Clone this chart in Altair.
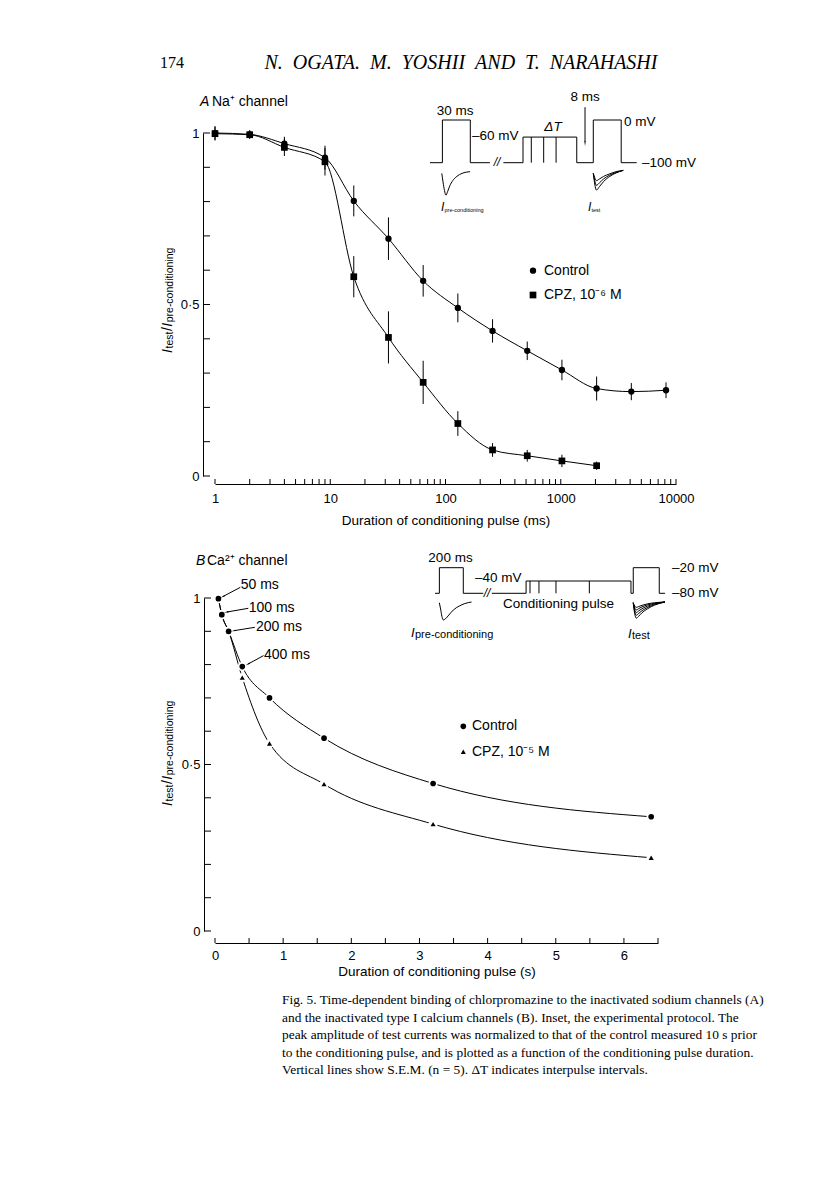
import math
import altair as alt
import pandas as pd

FONT = "Liberation Sans"
SERIF = "Liberation Serif"

# ---------------- data: panel A (Na+ channel) ----------------
a_dur_ctrl = [1, 2, 4, 9, 16, 32, 64, 128, 256, 512, 1024, 2048, 4096, 8192]
a_ctrl     = [1.000, 0.996, 0.969, 0.928, 0.802, 0.692, 0.569, 0.490, 0.423, 0.365, 0.309, 0.255, 0.246, 0.250]
a_ctrl_sem = [0.020, 0.012, 0.020, 0.035, 0.045, 0.062, 0.046, 0.042, 0.034, 0.027, 0.030, 0.035, 0.025, 0.023]
a_dur_cpz  = [1, 2, 4, 9, 16, 32, 64, 128, 256, 512, 1024, 2048]
a_cpz      = [0.998, 0.995, 0.958, 0.916, 0.581, 0.404, 0.273, 0.153, 0.076, 0.059, 0.044, 0.030]
a_cpz_sem  = [0.020, 0.012, 0.025, 0.040, 0.060, 0.076, 0.063, 0.036, 0.020, 0.017, 0.018, 0.012]

# ---------------- data: panel B (Ca2+ channel) ----------------
b_dur  = [0.05, 0.1, 0.2, 0.4, 0.8, 1.6, 3.2, 6.4]
b_ctrl = [0.998, 0.950, 0.900, 0.794, 0.700, 0.579, 0.443, 0.343]
b_cpz  = [0.998, 0.950, 0.900, 0.761, 0.563, 0.441, 0.321, 0.220]
b_ann_labels = ["50 ms", "100 ms", "200 ms", "400 ms"]
b_arrow_x1 = [0.371, 0.488, 0.585, 0.712]
b_arrow_y1 = [1.032, 0.969, 0.912, 0.827]
b_arrow_x2 = [0.122, 0.176, 0.283, 0.488]
b_arrow_y2 = [1.005, 0.958, 0.902, 0.802]

# ---------------- ticks / labels ----------------
a_xticks = [m * 10 ** e for e in range(4) for m in range(1, 10)] + [10000]
a_xlabels = [1, 10, 100, 1000, 10000]
b_xticks = [i * 0.5 for i in range(14)]
b_xlabels = [0, 1, 2, 3, 4, 5, 6]
y_ticks = [i / 10 for i in range(11)]
y_labels = [0, 0.5, 1]

# ---------------- inset protocol A (schematic units) ----------------
ia_seg_t = [[0, 6, 6, 19.5, 19.5, 29], [35.5, 45, 45, 71, 71, 79, 79, 92.5, 92.5, 100]]
ia_seg_v = [[0, 0, 1, 1, 0, 0], [0, 0, 0.6, 0.6, 0, 0, 1, 1, 0, 0]]
ia_steps_t = [49, 55, 61]
ia_steps_top = 0.6
ia_pre_t = [5.7, 6.3, 7.0, 7.7, 8.5, 9.5, 11, 13, 15.5, 19.4]
ia_pre_v = [-0.25, -0.45, -0.65, -0.76, -0.68, -0.55, -0.42, -0.32, -0.25, -0.21]
ia_test_t = [79, 79.7, 80.5, 82, 84, 87, 90, 93.5]
ia_test_v = [[-0.25, -0.35, -0.42, -0.38, -0.32, -0.26, -0.21, -0.18],
             [-0.25, -0.42, -0.53, -0.47, -0.38, -0.29, -0.23, -0.18],
             [-0.25, -0.50, -0.64, -0.56, -0.44, -0.32, -0.24, -0.18]]

# ---------------- inset protocol B (schematic units) ----------------
ib_seg_t = [[0, 1.9, 1.9, 12.3, 12.3, 21], [24.7, 39.6, 39.6, 85.2, 85.2, 86.2, 86.2, 97.5, 97.5, 100]]
ib_seg_v = [[0, 0, 1, 1, 0, 0], [0, 0, 0.48, 0.48, 0, 0, 1, 1, 0, 0]]
ib_steps_t = [41.3, 45.2, 52.6, 67.1]
ib_steps_top = 0.48
ib_pre_t = [1.9, 2.5, 3.0, 3.6, 4.5, 6, 8, 10.5, 13, 15.9]
ib_pre_v = [-0.37, -0.65, -0.90, -1.04, -1.00, -0.85, -0.65, -0.50, -0.40, -0.34]
ib_test_t = [86.2, 86.8, 87.5, 88.5, 90, 92.5, 95.5, 100]
ib_test_v = [[-0.37, -0.50, -0.55, -0.52, -0.47, -0.41, -0.37, -0.34],
             [-0.37, -0.56, -0.65, -0.60, -0.53, -0.45, -0.39, -0.34],
             [-0.37, -0.63, -0.75, -0.69, -0.60, -0.50, -0.41, -0.34],
             [-0.37, -0.70, -0.86, -0.79, -0.68, -0.55, -0.44, -0.34],
             [-0.37, -0.78, -0.97, -0.90, -0.76, -0.60, -0.46, -0.34]]

# ---------------- layout ----------------
OX = 215
OY_A, OY_B = 133, 597
W_A, H_A = 461, 343
W_B, H_B = 443, 333


def dom_x(p0, p1, v0, v1, size):
    k = (p1 - p0) / (v1 - v0)
    d0 = v0 - (p0 - OX) / k
    return [d0, d0 + size / k]


def dom_y(p0, p1, v0, v1, origin, size):
    k = (p0 - p1) / (v1 - v0)
    d1 = v0 + (p0 - origin) / k
    return [d1 - size / k, d1]


ONE = alt.Data(values=[{}])


def ptxt(s, px, py, oy, size=13.5, font=FONT, style="normal", align="left",
         angle=0, baseline="middle"):
    return alt.Chart(ONE).mark_text(
        text=s, font=font, fontSize=size, fontStyle=style, align=align,
        baseline=baseline, angle=angle, color="black"
    ).encode(x=alt.value(px - OX), y=alt.value(py - oy))


def pmark(shape, px, py, oy, size):
    return alt.Chart(ONE).mark_point(
        shape=shape, filled=True, size=size, color="black", opacity=1
    ).encode(x=alt.value(px - OX), y=alt.value(py - oy))


def xaxis(values, title, offset, lp, tp):
    return alt.Axis(values=values, format="d", ticks=False, grid=False, offset=offset,
                    labelPadding=lp, title=title, titlePadding=tp, domainColor="black",
                    domainWidth=1, labelFont=FONT, labelFontSize=13, labelColor="black",
                    titleFont=FONT, titleFontSize=13.5, titleFontWeight="normal",
                    titleColor="black", labelFlush=False, labelOverlap=False)


def yaxis(offset):
    return alt.Axis(values=y_labels,
                    labelExpr="datum.value == 0.5 ? '0·5' : (datum.value == 1 ? '1' : '0')",
                    ticks=False, grid=False, offset=offset, labelPadding=4, title=None,
                    domainColor="black", domainWidth=1, labelFont=FONT, labelFontSize=13,
                    labelColor="black", labelFlush=False, labelOverlap=False)


def ytitle(px_base, py_bottom, oy):
    parts = []
    pos = py_bottom
    pieces = [("I", 14, "italic", 0, 4.5), ("test", 10.5, "normal", 1, 17.5),
              ("/", 14, "normal", 0, 4.2), ("I", 14, "italic", 0, 4.5),
              ("pre-conditioning", 10.5, "normal", 1, 0)]
    for s, fs, st, dx, adv in pieces:
        parts.append(ptxt(s, px_base + dx, pos, oy, size=fs, style=st, angle=270,
                          baseline="alphabetic"))
        pos -= adv
    return parts


def inset(seg_t, seg_v, steps_t, steps_top, pre_t, pre_v, test_t, test_v, sx, sy):
    X = lambda f: alt.X(f, type="quantitative", scale=sx, axis=None)
    Y = lambda f: alt.Y(f, type="quantitative", scale=sy, axis=None)
    rows = []
    for si, (ts, vs) in enumerate(zip(seg_t, seg_v)):
        for i, (t, v) in enumerate(zip(ts, vs)):
            rows.append({"t": t, "v": v, "seg": si, "i": i})
    volt = alt.Chart(pd.DataFrame(rows)).mark_line(color="black", strokeWidth=1).encode(
        x=X("t"), y=Y("v"), detail="seg:N", order="i:Q")
    steps = alt.Chart(pd.DataFrame({"t": steps_t, "lo": [0] * len(steps_t),
                                    "hi": [steps_top] * len(steps_t)})).mark_rule(
        color="black", strokeWidth=1).encode(x=X("t"), y=Y("lo"), y2="hi:Q")
    pre = alt.Chart(pd.DataFrame({"t": pre_t, "v": pre_v})).mark_line(
        color="black", strokeWidth=1, interpolate="monotone").encode(x=X("t"), y=Y("v"))
    trows = []
    for k, vs in enumerate(test_v):
        for t, v in zip(test_t, vs):
            trows.append({"t": t, "v": v, "k": k})
    test = alt.Chart(pd.DataFrame(trows)).mark_line(
        color="black", strokeWidth=1, interpolate="monotone").encode(
        x=X("t"), y=Y("v"), detail="k:N")
    return [volt, steps, pre, test], X, Y


# ======================= PANEL A =======================
scAx = alt.Scale(type="log", domain=[1, 10000], nice=False)
scAy = alt.Scale(domain=[0, 1], nice=False, zero=False)
axAx = xaxis(a_xlabels, "Duration of conditioning pulse (ms)", 8, 8, 8)
axAy = yaxis(12)
XA = lambda f: alt.X(f, type="quantitative", scale=scAx, axis=axAx)
YA = lambda f: alt.Y(f, type="quantitative", scale=scAy, axis=axAy)

dfA_c = pd.DataFrame({"x": a_dur_ctrl, "y": a_ctrl,
                      "lo": [y - e for y, e in zip(a_ctrl, a_ctrl_sem)],
                      "hi": [y + e for y, e in zip(a_ctrl, a_ctrl_sem)]})
dfA_p = pd.DataFrame({"x": a_dur_cpz, "y": a_cpz,
                      "lo": [y - e for y, e in zip(a_cpz, a_cpz_sem)],
                      "hi": [y + e for y, e in zip(a_cpz, a_cpz_sem)]})

lineA_c = alt.Chart(dfA_c).mark_line(color="black", strokeWidth=1, interpolate="monotone").encode(x=XA("x"), y=YA("y"))
lineA_p = alt.Chart(dfA_p).mark_line(color="black", strokeWidth=1, interpolate="monotone").encode(x=XA("x"), y=YA("y"))
errA = alt.Chart(pd.concat([dfA_c, dfA_p])).mark_rule(color="black", strokeWidth=1).encode(
    x=XA("x"), y=YA("lo"), y2="hi:Q")
ptsA_c = alt.Chart(dfA_c).mark_point(shape="circle", filled=True, size=40, color="black", opacity=1).encode(x=XA("x"), y=YA("y"))
ptsA_p = alt.Chart(dfA_p).mark_point(shape="square", filled=True, size=45, color="black", opacity=1).encode(x=XA("x"), y=YA("y"))

tickAx = alt.Chart(pd.DataFrame({"v": a_xticks})).mark_rule(color="black", strokeWidth=1).encode(
    x=XA("v"), y=alt.value(H_A + 8), y2=alt.value(H_A + 3))
tickAy = alt.Chart(pd.DataFrame({"v": y_ticks})).mark_rule(color="black", strokeWidth=1).encode(
    y=YA("v"), x=alt.value(-12), x2=alt.value(-5))

NB = "\u00a0\u00a0"
header = NB.join(["N.", "OGATA.", "M.", "YOSHII", "AND", "T.", "NARAHASHI"])

textsA = [
    ptxt("174", 160, 63, OY_A, size=16, font=SERIF),
    ptxt(header, 461, 63, OY_A, size=20, font=SERIF, style="italic", align="center"),
    ptxt("A", 200, 102, OY_A, size=14, style="italic"),
    ptxt("Na⁺ channel", 212, 102, OY_A, size=14),
    pmark("circle", 533, 270.7, OY_A, 40),
    ptxt("Control", 544, 270.7, OY_A, size=14),
    pmark("square", 533, 295, OY_A, 45),
    ptxt("CPZ, 10⁻⁶ M", 544, 295, OY_A, size=14),
    # inset labels
    ptxt("30 ms", 455, 111, OY_A, align="center"),
    ptxt("–60 mV", 472, 136, OY_A),
    ptxt("ΔT", 553, 127, OY_A, style="italic", align="center"),
    ptxt("8 ms", 585, 97, OY_A, align="center"),
    ptxt("0 mV", 624, 122, OY_A),
    ptxt("–100 mV", 642, 163, OY_A),
    ptxt("//", 497, 162, OY_A, size=12, style="italic", align="center"),
    ptxt("I", 441, 207, OY_A, size=12, style="italic"),
    ptxt("pre-conditioning", 444.5, 210, OY_A, size=5.5),
    ptxt("I", 588, 207, OY_A, size=12, style="italic"),
    ptxt("test", 591.5, 210, OY_A, size=5.5),
] + ytitle(172, 353, OY_A)

mainA = alt.layer(tickAx, tickAy, lineA_c, lineA_p, errA, ptsA_c, ptsA_p, *textsA)

sIAx = alt.Scale(domain=dom_x(430, 636.7, 0, 100, W_A), nice=False, zero=False)
sIAy = alt.Scale(domain=dom_y(162.7, 120, 0, 1, OY_A, H_A), nice=False, zero=False)
insA_layers, XIA, YIA = inset(ia_seg_t, ia_seg_v, ia_steps_t, ia_steps_top, ia_pre_t, ia_pre_v,
                              ia_test_t, ia_test_v, sIAx, sIAy)
arrowA = alt.Chart(pd.DataFrame({"t": [75], "a": [1.30], "b": [0.50]})).mark_rule(
    color="black", strokeWidth=1).encode(x=XIA("t"), y=YIA("a"), y2="b:Q")
arrowA_head = alt.Chart(pd.DataFrame({"t": [75], "b": [0.47]})).mark_point(
    shape="wedge", filled=True, size=35, angle=180, color="black", opacity=1).encode(
    x=XIA("t"), y=YIA("b"))
insetA = alt.layer(*insA_layers, arrowA, arrowA_head)

panelA = alt.layer(mainA, insetA).resolve_scale(x="independent", y="independent").properties(
    width=W_A, height=H_A)

# ======================= PANEL B =======================
scBx = alt.Scale(domain=[0, 6.5], nice=False, zero=False)
scBy = alt.Scale(domain=[0, 1], nice=False, zero=False)
axBx = xaxis(b_xlabels, "Duration of conditioning pulse (s)", 12, 6, 2)
axBy = yaxis(11)
XB = lambda f: alt.X(f, type="quantitative", scale=scBx, axis=axBx)
YB = lambda f: alt.Y(f, type="quantitative", scale=scBy, axis=axBy)

dfB_c = pd.DataFrame({"x": b_dur, "y": b_ctrl})
dfB_p = pd.DataFrame({"x": b_dur, "y": b_cpz})

lineB_c = alt.Chart(dfB_c).mark_line(color="black", strokeWidth=1, interpolate="monotone").encode(x=XB("x"), y=YB("y"))
lineB_p = alt.Chart(dfB_p).mark_line(color="black", strokeWidth=1, interpolate="monotone").encode(x=XB("x"), y=YB("y"))
haloB = alt.Chart(pd.concat([dfB_c, dfB_p])).mark_point(shape="circle", filled=True, size=85, color="white", opacity=1).encode(x=XB("x"), y=YB("y"))
ptsB_p = alt.Chart(dfB_p).mark_point(shape="triangle-up", filled=True, size=26, color="black", opacity=1).encode(x=XB("x"), y=YB("y"))
ptsB_c = alt.Chart(dfB_c).mark_point(shape="circle", filled=True, size=32, color="black", opacity=1).encode(x=XB("x"), y=YB("y"))

pxu, pyu = W_B / 6.5, H_B / 1.0
angles = [math.degrees(math.atan2((x2 - x1) * pxu, (y2 - y1) * pyu)) % 360
          for x1, y1, x2, y2 in zip(b_arrow_x1, b_arrow_y1, b_arrow_x2, b_arrow_y2)]
dfArr = pd.DataFrame({"x1": b_arrow_x1, "y1": b_arrow_y1, "x2": b_arrow_x2, "y2": b_arrow_y2,
                      "ang": angles})
arrB = alt.Chart(dfArr).mark_rule(color="black", strokeWidth=1).encode(
    x=XB("x1"), y=YB("y1"), x2="x2:Q", y2="y2:Q")
arrB_head = alt.Chart(dfArr).mark_point(shape="wedge", filled=True, size=30, color="black", opacity=1).encode(
    x=XB("x2"), y=YB("y2"), angle=alt.Angle("ang:Q", scale=None))

tickBx = alt.Chart(pd.DataFrame({"v": b_xticks})).mark_rule(color="black", strokeWidth=1).encode(
    x=XB("v"), y=alt.value(H_B + 12), y2=alt.value(H_B + 7))
tickBy = alt.Chart(pd.DataFrame({"v": y_ticks})).mark_rule(color="black", strokeWidth=1).encode(
    y=YB("v"), x=alt.value(-11), x2=alt.value(-4))

ann_pos = [(240.7, 584), (248.7, 606.7), (256, 626), (264, 654.3)]
caption = [
    "Fig. 5. Time-dependent binding of chlorpromazine to the inactivated sodium channels (A)",
    "and the inactivated type I calcium channels (B). Inset, the experimental protocol. The",
    "peak amplitude of test currents was normalized to that of the control measured 10 s prior",
    "to the conditioning pulse, and is plotted as a function of the conditioning pulse duration.",
    "Vertical lines show S.E.M. (n = 5). ΔT indicates interpulse intervals.",
]
cap_y = [999, 1016.5, 1034, 1051.5, 1069]

textsB = [
    ptxt("B", 196, 560, OY_B, size=14, style="italic"),
    ptxt("Ca²⁺ channel", 207, 560, OY_B, size=14),
    pmark("circle", 463.3, 725.3, OY_B, 32),
    ptxt("Control", 472, 725.3, OY_B, size=14),
    pmark("triangle-up", 463.3, 750.7, OY_B, 26),
    ptxt("CPZ, 10⁻⁵ M", 472, 750.7, OY_B, size=14),
    ptxt("200 ms", 450.5, 557, OY_B, align="center"),
    ptxt("–40 mV", 475, 577, OY_B),
    ptxt("Conditioning pulse", 503, 603, OY_B),
    ptxt("–20 mV", 672, 567, OY_B),
    ptxt("–80 mV", 672, 592, OY_B),
    ptxt("//", 487, 592, OY_B, size=12, style="italic", align="center"),
    ptxt("I", 411, 632, OY_B, size=13, style="italic"),
    ptxt("pre-conditioning", 415, 634, OY_B, size=11),
    ptxt("I", 628, 633, OY_B, size=13, style="italic"),
    ptxt("test", 632, 635, OY_B, size=11),
] + [ptxt(s, px, py, OY_B, size=14) for s, (px, py) in zip(b_ann_labels, ann_pos)] \
  + [ptxt(s, 282, y, OY_B, size=13.4, font=SERIF) for s, y in zip(caption, cap_y)] \
  + ytitle(172, 805, OY_B)

mainB = alt.layer(tickBx, tickBy, lineB_c, lineB_p, haloB, ptsB_p, ptsB_c, arrB, arrB_head, *textsB)

sIBx = alt.Scale(domain=dom_x(435, 665, 0, 100, W_B), nice=False, zero=False)
sIBy = alt.Scale(domain=dom_y(592.3, 566.7, 0, 1, OY_B, H_B), nice=False, zero=False)
insB_layers, XIB, YIB = inset(ib_seg_t, ib_seg_v, ib_steps_t, ib_steps_top, ib_pre_t, ib_pre_v,
                              ib_test_t, ib_test_v, sIBx, sIBy)
insetB = alt.layer(*insB_layers)

panelB = alt.layer(mainB, insetB).resolve_scale(x="independent", y="independent").properties(
    width=W_B, height=H_B)

chart = alt.vconcat(panelA, panelB, spacing=24).properties(
    padding={"left": 152, "top": 45, "right": 10, "bottom": 10},
    background="white",
).configure_view(stroke=None)

chart.save("out.html", embed_options={"renderer": "svg", "actions": False})
